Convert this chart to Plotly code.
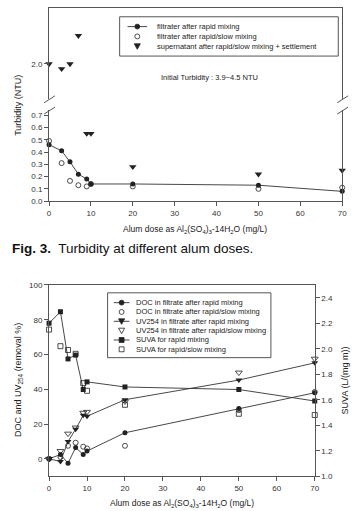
import plotly.graph_objects as go

# ---------------- Data ----------------
# Fig. 3: turbidity vs alum dose
dose_turb = [0, 3, 5, 7, 9, 10, 20, 50, 70]
turb_rapid = [0.46, 0.41, 0.32, 0.22, 0.18, 0.14, 0.14, 0.13, 0.08]
turb_slow = [0.49, 0.31, 0.165, 0.13, 0.12, 0.14, 0.12, 0.10, 0.11]
turb_settle = [2.0, 1.96, 2.0, 2.23, 0.55, 0.55, 0.28, 0.22, 0.25]

# Lower figure: DOC / UV254 removal (%) and SUVA
dose = [0, 3, 5, 7, 9, 10, 20, 50, 70]
doc_rapid = [0, 2.5, -2.5, 6.5, 2.5, 4.5, 15, 29, 38]
doc_slow = [0, 1, 7.5, 9.3, 7, 6, 7.5, 28, 38.5]
uv_rapid = [0, -1.5, 10, 17, 25, 24.5, 34, 45.3, 55.2]
uv_slow = [0, 4.5, 14.5, 18, 26.5, 27, 33, 49.6, 57.6]
suva_rapid = [2.20, 2.29, 1.92, 1.95, 1.68, 1.74, 1.70, 1.68, 1.59]
suva_slow = [2.15, 2.02, 1.99, 1.96, 1.73, 1.67, 1.56, 1.49, 1.48]

x_ticks = [0, 10, 20, 30, 40, 50, 60, 70]
turb_low_ticks = [0.0, 0.1, 0.2, 0.3, 0.4, 0.5, 0.6, 0.7]
turb_high_ticks = [2.0]
removal_ticks = [0, 20, 40, 60, 80, 100]
suva_ticks = [1.0, 1.2, 1.4, 1.6, 1.8, 2.0, 2.2, 2.4]

# ---------------- Geometry helpers ----------------
W, H = 357, 511
def fx(px):
    return px / W
def fy(py):
    return 1 - py / H

FONT = "Liberation Sans, Arial, sans-serif"
INK = "#222"
LINE = "#555"
tickfont = dict(family=FONT, size=8, color="#333")

settle_hi_x = [d for d, v in zip(dose_turb, turb_settle) if v > 1]
settle_hi_y = [v for v in turb_settle if v > 1]
settle_lo_x = [d for d, v in zip(dose_turb, turb_settle) if v <= 1]
settle_lo_y = [v for v in turb_settle if v <= 1]

mk_line = dict(color="#333", width=0.9)

fig = go.Figure()
# --- top chart
fig.add_trace(go.Scatter(x=dose_turb, y=turb_rapid, mode="lines+markers", xaxis="x", yaxis="y",
                         line=mk_line, marker=dict(symbol="circle", size=5, color=INK), cliponaxis=False))
fig.add_trace(go.Scatter(x=dose_turb, y=turb_slow, mode="markers", xaxis="x", yaxis="y",
                         marker=dict(symbol="circle-open", size=5, color=INK, line=dict(width=0.8)), cliponaxis=False))
fig.add_trace(go.Scatter(x=settle_lo_x, y=settle_lo_y, mode="markers", xaxis="x", yaxis="y",
                         marker=dict(symbol="triangle-down", size=6.5, color=INK), cliponaxis=False))
fig.add_trace(go.Scatter(x=settle_hi_x, y=settle_hi_y, mode="markers", xaxis="x2", yaxis="y2",
                         marker=dict(symbol="triangle-down", size=6.5, color=INK), cliponaxis=False))
# --- bottom chart
fig.add_trace(go.Scatter(x=dose, y=doc_rapid, mode="lines+markers", xaxis="x3", yaxis="y3",
                         line=mk_line, marker=dict(symbol="circle", size=5, color=INK), cliponaxis=False))
fig.add_trace(go.Scatter(x=dose, y=doc_slow, mode="markers", xaxis="x3", yaxis="y3",
                         marker=dict(symbol="circle-open", size=5, color=INK, line=dict(width=0.8)), cliponaxis=False))
fig.add_trace(go.Scatter(x=dose, y=uv_rapid, mode="lines+markers", xaxis="x3", yaxis="y3",
                         line=mk_line, marker=dict(symbol="triangle-down", size=6, color=INK), cliponaxis=False))
fig.add_trace(go.Scatter(x=dose, y=uv_slow, mode="markers", xaxis="x3", yaxis="y3",
                         marker=dict(symbol="triangle-down-open", size=6, color=INK, line=dict(width=0.8)), cliponaxis=False))
fig.add_trace(go.Scatter(x=dose, y=suva_rapid, mode="lines+markers", xaxis="x3", yaxis="y4",
                         line=mk_line, marker=dict(symbol="square", size=5, color=INK), cliponaxis=False))
fig.add_trace(go.Scatter(x=dose, y=suva_slow, mode="markers", xaxis="x3", yaxis="y4",
                         marker=dict(symbol="square-open", size=5, color=INK, line=dict(width=0.8)), cliponaxis=False))

ax_common = dict(showgrid=False, zeroline=False, linecolor=LINE, linewidth=1, tickcolor=LINE,
                 tickfont=tickfont, ticklen=4, tickwidth=1)

fig.update_layout(
    width=W, height=H, margin=dict(l=0, r=0, t=0, b=0),
    paper_bgcolor="white", plot_bgcolor="white", showlegend=False,
    xaxis=dict(domain=[fx(48), fx(347)], anchor="y", range=[0, 70], tickvals=x_ticks,
               ticks="outside", showline=True, **ax_common),
    yaxis=dict(domain=[fy(200.7), fy(108.2)], anchor="x", range=[0, 0.74], tickvals=turb_low_ticks,
               tickformat=".1f", ticks="outside", showline=True, mirror=True, **ax_common),
    xaxis2=dict(domain=[fx(48), fx(347)], anchor="y2", range=[0, 70], side="top", showline=True,
                showticklabels=False, ticks="", **ax_common),
    yaxis2=dict(domain=[fy(97), fy(4)], anchor="x2", range=[1.712, 2.456], tickvals=turb_high_ticks,
                tickformat=".1f", ticks="outside", showline=True, mirror=True, **ax_common),
    xaxis3=dict(domain=[fx(48), fx(319)], anchor="y3", range=[0, 70], tickvals=x_ticks,
                ticks="outside", showline=True, mirror=True, **ax_common),
    yaxis3=dict(domain=[fy(480.7), fy(286)], anchor="x3", range=[-10, 100], tickvals=removal_ticks,
                ticks="outside", showline=True, **ax_common),
    yaxis4=dict(overlaying="y3", anchor="x3", side="right", range=[1.0, 2.5], tickvals=suva_ticks,
                tickformat=".1f", ticks="outside", showline=True, **ax_common),
)

shapes = []
annotations = []

def line_px(x0, y0, x1, y1, w=0.9, c="#333"):
    shapes.append(dict(type="line", xref="paper", yref="paper", x0=fx(x0), y0=fy(y0), x1=fx(x1), y1=fy(y1),
                       line=dict(color=c, width=w)))

def text_px(x, y, s, size=7.5, anchor="left", angle=0, family=FONT, color="#222"):
    annotations.append(dict(xref="paper", yref="paper", x=fx(x), y=fy(y), text=s, showarrow=False,
                            xanchor=anchor, yanchor="middle", textangle=angle,
                            font=dict(family=family, size=size, color=color)))

def symbol_px(cx, cy, kind, filled, r=2.5):
    fill = INK if filled else "white"
    if kind == "circle":
        shapes.append(dict(type="circle", xref="paper", yref="paper", x0=fx(cx - r), x1=fx(cx + r),
                           y0=fy(cy + r), y1=fy(cy - r), fillcolor=fill, line=dict(color=INK, width=0.8)))
    elif kind == "square":
        shapes.append(dict(type="rect", xref="paper", yref="paper", x0=fx(cx - r), x1=fx(cx + r),
                           y0=fy(cy + r), y1=fy(cy - r), fillcolor=fill, line=dict(color=INK, width=0.8)))
    else:  # triangle down
        rr = r + 0.6
        p = "M {:.5f},{:.5f} L {:.5f},{:.5f} L {:.5f},{:.5f} Z".format(
            fx(cx - rr), fy(cy - rr * 0.8), fx(cx + rr), fy(cy - rr * 0.8), fx(cx), fy(cy + rr))
        shapes.append(dict(type="path", xref="paper", yref="paper", path=p, fillcolor=fill,
                           line=dict(color=INK, width=0.8)))

def legend_box(x0, y0, x1, y1):
    shapes.append(dict(type="rect", xref="paper", yref="paper", x0=fx(x0), x1=fx(x1), y0=fy(y1), y1=fy(y0),
                       line=dict(color=LINE, width=1), fillcolor="rgba(0,0,0,0)"))

# ---- top legend
legend_box(120, 13, 343, 53)
top_items = [("circle", True, True, "filtrater after rapid mixing"),
             ("circle", False, False, "filtrater after rapid/slow mixing"),
             ("tri", True, False, "supernatant after rapid/slow mixing + settlement")]
for i, (k, f, ln, t) in enumerate(top_items):
    yy = 23 + 10 * i
    if ln:
        line_px(128, yy, 148, yy)
    symbol_px(138, yy, k, f)
    text_px(156, yy, t)

text_px(160, 75, "Initial Turbidity : 3.9~4.5 NTU", size=7.5)

# ---- bottom legend
legend_box(107.7, 294, 274.3, 360)
bot_items = [("circle", True, True, "DOC in filtrate after rapid mixing"),
             ("circle", False, False, "DOC in filtrate after rapid/slow mixing"),
             ("tri", True, True, "UV254 in filtrate after rapid mixing"),
             ("tri", False, False, "UV254 in filtrate after rapid/slow mixing"),
             ("square", True, True, "SUVA for rapid mixing"),
             ("square", False, False, "SUVA for rapid/slow mixing")]
for i, (k, f, ln, t) in enumerate(bot_items):
    yy = 304 + 9.5 * i
    if ln:
        line_px(114, yy, 130, yy)
    symbol_px(122, yy, k, f)
    text_px(135, yy, t)

# ---- axis break marks (top chart)
for cx in (48.5, 347.5):
    line_px(cx - 5.5, 100.5, cx + 5.5, 93.5, w=1, c=LINE)
    line_px(cx - 5.5, 112, cx + 5.5, 105, w=1, c=LINE)

# ---- axis titles
xtitle = "Alum dose as Al<sub>2</sub>(SO<sub>4</sub>)<sub>3</sub>-14H<sub>2</sub>O (mg/L)"
text_px(197, 230, xtitle, size=8.5, anchor="center")
text_px(17, 103, "Turbidity (NTU)", size=9, anchor="center", angle=-90)
text_px(184, 508, xtitle, size=8.5, anchor="center")
text_px(17, 383, "DOC and UV<sub>254</sub> (removal %)", size=9, anchor="center", angle=-90)
text_px(350, 383, "SUVA (L/(mg m))", size=9, anchor="center", angle=-90)

# ---- caption
text_px(8, 249, "<b>Fig. 3.</b>  Turbidity at different alum doses.", size=13.5,
        family="Liberation Sans Narrow, Liberation Sans, sans-serif", color="#111")

fig.update_layout(shapes=shapes, annotations=annotations)
fig.write_html("out.html")
